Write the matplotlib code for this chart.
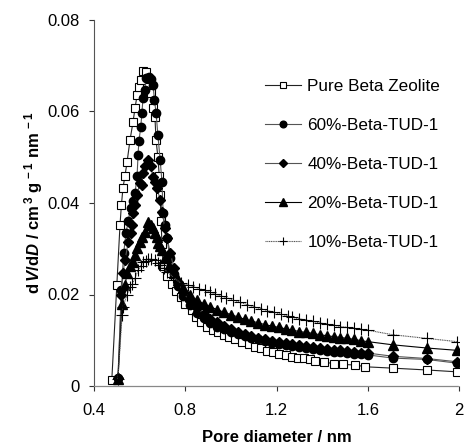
import matplotlib
matplotlib.use("Agg")
import matplotlib.pyplot as plt

plt.rcParams['font.family'] = ['Liberation Sans', 'DejaVu Sans']
plt.rcParams['mathtext.fontset'] = 'custom'
plt.rcParams['mathtext.rm'] = 'Liberation Sans:bold'
plt.rcParams['mathtext.it'] = 'Liberation Sans:bold:italic'
plt.rcParams['mathtext.bf'] = 'Liberation Sans:bold'

# ---------------- data ----------------
labels = ["Pure Beta Zeolite", "60%-Beta-TUD-1", "40%-Beta-TUD-1",
          "20%-Beta-TUD-1", "10%-Beta-TUD-1"]

x_pure = [0.478, 0.500, 0.514, 0.520, 0.527, 0.536, 0.545, 0.558, 0.571, 0.580,
          0.589, 0.597, 0.606, 0.615, 0.628, 0.640, 0.650, 0.660, 0.667, 0.672,
          0.680, 0.686, 0.690, 0.694, 0.698, 0.703, 0.720, 0.740, 0.760, 0.780,
          0.800, 0.830, 0.845, 0.870, 0.895, 0.920, 0.945, 0.970, 0.990, 1.020,
          1.050, 1.080, 1.105, 1.130, 1.160, 1.185, 1.210, 1.240, 1.270, 1.295,
          1.320, 1.345, 1.370, 1.410, 1.450, 1.490, 1.545, 1.590, 1.710, 1.860,
          1.990]
y_pure = [0.0013, 0.0220, 0.0352, 0.0395, 0.0433, 0.0460, 0.0490, 0.0538, 0.0577, 0.0608,
          0.0636, 0.0654, 0.0669, 0.0689, 0.0687, 0.0672, 0.0640, 0.0608, 0.0588, 0.0538,
          0.0500, 0.0460, 0.0418, 0.0360, 0.0310, 0.0262, 0.0240, 0.0222, 0.0208, 0.0195,
          0.0180, 0.0166, 0.0150, 0.0140, 0.0129, 0.0123, 0.0118, 0.0112, 0.0107, 0.0102,
          0.0097, 0.0091, 0.0086, 0.0082, 0.0077, 0.0074, 0.0071, 0.0067, 0.0064, 0.0062,
          0.0061, 0.0058, 0.0055, 0.0052, 0.0049, 0.0047, 0.0046, 0.0042, 0.0039, 0.0035,
          0.0031]

x_60 = [0.505, 0.520, 0.530, 0.540, 0.550, 0.560, 0.570, 0.580, 0.589, 0.593,
        0.597, 0.605, 0.610, 0.615, 0.622, 0.628, 0.640, 0.650, 0.659, 0.665,
        0.672, 0.680, 0.690, 0.698, 0.703, 0.710, 0.720, 0.733, 0.750, 0.770,
        0.790, 0.820, 0.850, 0.880, 0.910, 0.940, 0.970, 1.000, 1.030, 1.060,
        1.090, 1.120, 1.150, 1.180, 1.210, 1.240, 1.270, 1.300, 1.330, 1.360,
        1.390, 1.420, 1.450, 1.480, 1.510, 1.540, 1.570, 1.600, 1.710, 1.860,
        1.990]
y_60 = [0.0017, 0.0210, 0.0290, 0.0334, 0.0360, 0.0390, 0.0405, 0.0422, 0.0460, 0.0505,
        0.0536, 0.0566, 0.0597, 0.0630, 0.0647, 0.0673, 0.0676, 0.0671, 0.0658, 0.0625,
        0.0597, 0.0549, 0.0494, 0.0446, 0.0378, 0.0352, 0.0323, 0.0280, 0.0245, 0.0218,
        0.0196, 0.0176, 0.0160, 0.0148, 0.0138, 0.0130, 0.0124, 0.0119, 0.0114, 0.0110,
        0.0106, 0.0102, 0.0098, 0.0095, 0.0092, 0.0089, 0.0087, 0.0085, 0.0083, 0.0081,
        0.0079, 0.0077, 0.0075, 0.0074, 0.0072, 0.0071, 0.0069, 0.0068, 0.0061, 0.0058,
        0.0050]

x_40 = [0.505, 0.520, 0.527, 0.536, 0.550, 0.560, 0.567, 0.571, 0.580, 0.590,
        0.600, 0.610, 0.615, 0.624, 0.637, 0.648, 0.659, 0.668, 0.676, 0.690,
        0.700, 0.710, 0.720, 0.735, 0.750, 0.770, 0.790, 0.820, 0.850, 0.880,
        0.910, 0.940, 0.970, 1.000, 1.030, 1.060, 1.090, 1.120, 1.150, 1.180,
        1.210, 1.240, 1.270, 1.300, 1.330, 1.360, 1.390, 1.420, 1.450, 1.480,
        1.510, 1.540, 1.570, 1.600, 1.710, 1.860, 1.990]
y_40 = [0.0017, 0.0200, 0.0247, 0.0275, 0.0315, 0.0335, 0.0352, 0.0378, 0.0396, 0.0418,
        0.0444, 0.0440, 0.0465, 0.0480, 0.0494, 0.0480, 0.0457, 0.0445, 0.0433, 0.0407,
        0.0380, 0.0345, 0.0323, 0.0290, 0.0258, 0.0228, 0.0205, 0.0185, 0.0170, 0.0158,
        0.0147, 0.0139, 0.0131, 0.0125, 0.0119, 0.0114, 0.0110, 0.0106, 0.0102, 0.0099,
        0.0096, 0.0093, 0.0091, 0.0089, 0.0087, 0.0085, 0.0083, 0.0081, 0.0079, 0.0078,
        0.0076, 0.0075, 0.0073, 0.0072, 0.0065, 0.0060, 0.0053]

x_20 = [0.505, 0.523, 0.536, 0.545, 0.558, 0.571, 0.580, 0.590, 0.600, 0.610,
        0.624, 0.637, 0.648, 0.659, 0.668, 0.676, 0.680, 0.690, 0.698, 0.710,
        0.730, 0.750, 0.770, 0.790, 0.820, 0.850, 0.880, 0.910, 0.940, 0.970,
        1.000, 1.030, 1.060, 1.090, 1.120, 1.150, 1.180, 1.210, 1.240, 1.270,
        1.300, 1.330, 1.360, 1.390, 1.420, 1.450, 1.480, 1.510, 1.540, 1.570,
        1.600, 1.710, 1.860, 1.990]
y_20 = [0.0015, 0.0180, 0.0220, 0.0247, 0.0262, 0.0271, 0.0286, 0.0302, 0.0315, 0.0326,
        0.0337, 0.0358, 0.0352, 0.0345, 0.0335, 0.0326, 0.0313, 0.0305, 0.0297, 0.0280,
        0.0262, 0.0248, 0.0232, 0.0215, 0.0198, 0.0188, 0.0180, 0.0173, 0.0167, 0.0161,
        0.0156, 0.0151, 0.0146, 0.0142, 0.0138, 0.0134, 0.0131, 0.0128, 0.0125, 0.0122,
        0.0119, 0.0117, 0.0115, 0.0112, 0.0110, 0.0108, 0.0106, 0.0104, 0.0102, 0.0099,
        0.0097, 0.0090, 0.0083, 0.0078]

x_10 = [0.505, 0.523, 0.527, 0.545, 0.558, 0.567, 0.580, 0.593, 0.604, 0.615,
        0.626, 0.637, 0.650, 0.667, 0.680, 0.690, 0.705, 0.720, 0.747, 0.780,
        0.810, 0.835, 0.860, 0.885, 0.910, 0.930, 0.955, 0.980, 1.010, 1.040,
        1.070, 1.100, 1.130, 1.160, 1.190, 1.220, 1.250, 1.270, 1.300, 1.330,
        1.360, 1.390, 1.420, 1.450, 1.480, 1.510, 1.540, 1.570, 1.600, 1.710,
        1.860, 1.990]
y_10 = [0.0015, 0.0155, 0.0173, 0.0200, 0.0217, 0.0222, 0.0236, 0.0253, 0.0262, 0.0270,
        0.0274, 0.0278, 0.0277, 0.0275, 0.0268, 0.0264, 0.0257, 0.0250, 0.0238, 0.0225,
        0.0221, 0.0217, 0.0213, 0.0209, 0.0205, 0.0201, 0.0197, 0.0193, 0.0188, 0.0183,
        0.0178, 0.0173, 0.0169, 0.0165, 0.0161, 0.0157, 0.0153, 0.0150, 0.0147, 0.0144,
        0.0141, 0.0138, 0.0135, 0.0133, 0.0130, 0.0128, 0.0126, 0.0124, 0.0122, 0.0112,
        0.0104, 0.0097]

x_ticks = [0.4, 0.8, 1.2, 1.6, 2.0]
x_ticklabels = ["0.4", "0.8", "1.2", "1.6", "2"]
y_ticks = [0, 0.02, 0.04, 0.06, 0.08]
y_ticklabels = ["0", "0.02", "0.04", "0.06", "0.08"]

# ---------------- figure ----------------
fig = plt.figure(figsize=(4.70, 4.46), dpi=100)
ax = fig.add_axes([94/470, 1-386/446, (459-94)/470, (386-20)/446])

ms = 6
ax.plot(x_pure, y_pure, color='#222222', lw=0.8, marker='s', ms=ms,
        mfc='white', mec='black', mew=0.8, label=labels[0], zorder=3)
ax.plot(x_60, y_60, color='#555555', lw=0.8, marker='o', ms=ms,
        mfc='black', mec='black', label=labels[1], zorder=4)
ax.plot(x_40, y_40, color='#555555', lw=0.8, marker='D', ms=ms - 0.8,
        mfc='black', mec='black', label=labels[2], zorder=4)
ax.plot(x_20, y_20, color='black', lw=0.8, marker='^', ms=ms + 0.5,
        mfc='black', mec='black', label=labels[3], zorder=4)
ax.plot(x_10, y_10, color='#555555', lw=0.8, ls=(0, (1, 0.6)), marker='+', ms=ms + 2,
        mec='black', mew=0.8, label=labels[4], zorder=5)

ax.set_xlim(0.4, 2.0)
ax.set_ylim(0, 0.08)
ax.set_xticks(x_ticks)
ax.set_xticklabels(x_ticklabels)
ax.set_yticks(y_ticks)
ax.set_yticklabels(y_ticklabels)
ax.tick_params(direction='out', length=3.5, width=0.8, colors='#333333',
               labelsize=12, labelcolor='black')
ax.tick_params(axis='y', pad=7)
ax.tick_params(axis='x', pad=9)
for s in ['top', 'right']:
    ax.spines[s].set_visible(False)
ax.spines['left'].set_color('#555555')
ax.spines['left'].set_linewidth(0.8)
ax.spines['bottom'].set_color('#888888')
ax.spines['bottom'].set_linewidth(0.9)
ax.spines['bottom'].set_linestyle((0, (1, 1)))
for sp in ax.spines.values():
    sp.set_clip_on(False)

ax.set_xlabel("Pore diameter / nm", fontsize=12, fontweight='bold', labelpad=8.5)
ax.set_ylabel(r"d$\,\mathit{V}$/d$\mathit{D}$ / cm$^{\,3}$ g$^{\,-1}$ nm$^{\,-1}$",
              fontsize=12, fontweight='bold', labelpad=1.5)

leg = ax.legend(loc='upper left', bbox_to_anchor=(265/470, 1-79/446),
                bbox_transform=fig.transFigure, frameon=False, fontsize=12.3,
                handlelength=2.1, handletextpad=0.38, labelspacing=1.4,
                borderpad=0, borderaxespad=0, markerscale=0.8)

fig.savefig("out.png", dpi=100)
